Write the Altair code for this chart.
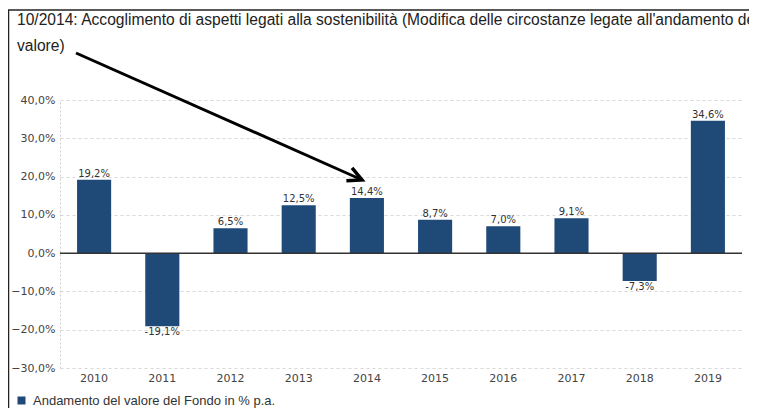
import altair as alt
import pandas as pd

years = ["2010", "2011", "2012", "2013", "2014", "2015", "2016", "2017", "2018", "2019"]
returns = [19.2, -19.1, 6.5, 12.5, 14.4, 8.7, 7.0, 9.1, -7.3, 34.6]
y_ticks = [-30, -20, -10, 0, 10, 20, 30, 40]
series_name = "Andamento del valore del Fondo in % p.a."
title_lines = [
    "10/2014: Accoglimento di aspetti legati alla sostenibilità (Modifica delle circostanze legate all'andamento del",
    "valore)",
]

BAR = "#1f4a78"

df = pd.DataFrame({"year": years, "ret": returns, "series": series_name})
df["label"] = [f"{v:.1f}%".replace(".", ",") for v in returns]

one = pd.DataFrame({"k": [0]})

x = alt.X(
    "year:N",
    sort=years,
    scale=alt.Scale(paddingInner=0.5, paddingOuter=0.25),
    axis=alt.Axis(title=None, labelAngle=0, ticks=False, domain=False,
                  labelFont="DejaVu Sans", labelFontSize=11, labelColor="#444",
                  labelPadding=4),
)
y_scale = alt.Scale(domain=[-30, 40], nice=False, zero=False)
y_axis = alt.Axis(values=y_ticks, title=None, ticks=False, labelOverlap=False,
                  labelExpr="replace(format(datum.value, '.1f'), '.', ',') + '%'",
                  labelFont="DejaVu Sans", labelFontSize=11, labelColor="#444",
                  labelPadding=5, grid=True, gridDash=[3, 3], gridColor="#d8d8d8",
                  domain=True, domainDash=[2, 2], domainColor="#cccccc")
y = alt.Y("ret:Q", scale=y_scale, axis=y_axis)

base = alt.Chart(df)

bars = base.mark_bar().encode(
    x=x, y=y,
    color=alt.Color("series:N", scale=alt.Scale(range=[BAR]),
                    legend=alt.Legend(orient="none", legendX=-45, legendY=294, title=None,
                                      symbolType="square", symbolSize=64, symbolStrokeWidth=0,
                                      labelFont="Liberation Sans", labelFontSize=13,
                                      labelLimit=0,
                                      labelColor="#333", labelOffset=5, padding=0)),
)

pos_labels = base.transform_filter("datum.ret >= 0").mark_text(
    baseline="bottom", dy=-1, font="DejaVu Sans", fontSize=10, color="#333"
).encode(x=x, y=y, text="label:N")

neg_labels = base.transform_filter("datum.ret < 0").mark_text(
    baseline="top", dy=1, font="DejaVu Sans", fontSize=10, color="#333"
).encode(x=x, y=y, text="label:N")

zero = alt.Chart(df).transform_filter("datum.year == '2010'").transform_calculate(
    z="0"
).mark_rule(color="#333", strokeWidth=1.5).encode(
    y=alt.Y("z:Q", scale=y_scale, axis=y_axis)
)

arrow_line = alt.Chart(one).mark_rule(color="black", strokeWidth=3).encode(
    x=alt.value(16), y=alt.value(-47), x2=alt.value(300), y2=alt.value(79)
)
arrow_head = alt.Chart(one).mark_point(
    shape="M-2,-1L0,0L-2,1", filled=False, stroke="black", strokeWidth=3.5, size=196, angle=24, opacity=1
).encode(x=alt.value(302), y=alt.value(80))

border_left = alt.Chart(one).mark_rule(color="#222", strokeWidth=1.5).encode(
    x=alt.value(-51.5), y=alt.value(-90), y2=alt.value(310)
)
border_top = alt.Chart(one).mark_rule(color="#222", strokeWidth=1.5).encode(
    x=alt.value(-52), x2=alt.value(700), y=alt.value(-90)
)

title1 = alt.Chart(one).mark_text(
    align="left", baseline="alphabetic", font="Liberation Sans", fontSize=15.6, color="#222"
).encode(x=alt.value(-43), y=alt.value(-75), text=alt.value(title_lines[0]))
title2 = alt.Chart(one).mark_text(
    align="left", baseline="alphabetic", font="Liberation Sans", fontSize=15.6, color="#222"
).encode(x=alt.value(-43), y=alt.value(-49), text=alt.value(title_lines[1]))

chart = alt.layer(
    bars, zero, pos_labels, neg_labels, arrow_line, arrow_head,
    border_left, border_top, title1, title2
).properties(
    width=682, height=268,
    padding={"left": 52, "top": 92, "right": 7, "bottom": 40},
    autosize=alt.AutoSizeParams(type="none"),
).configure_view(stroke=None)

chart.save("out.html", embed_options={"renderer": "svg", "actions": False})
